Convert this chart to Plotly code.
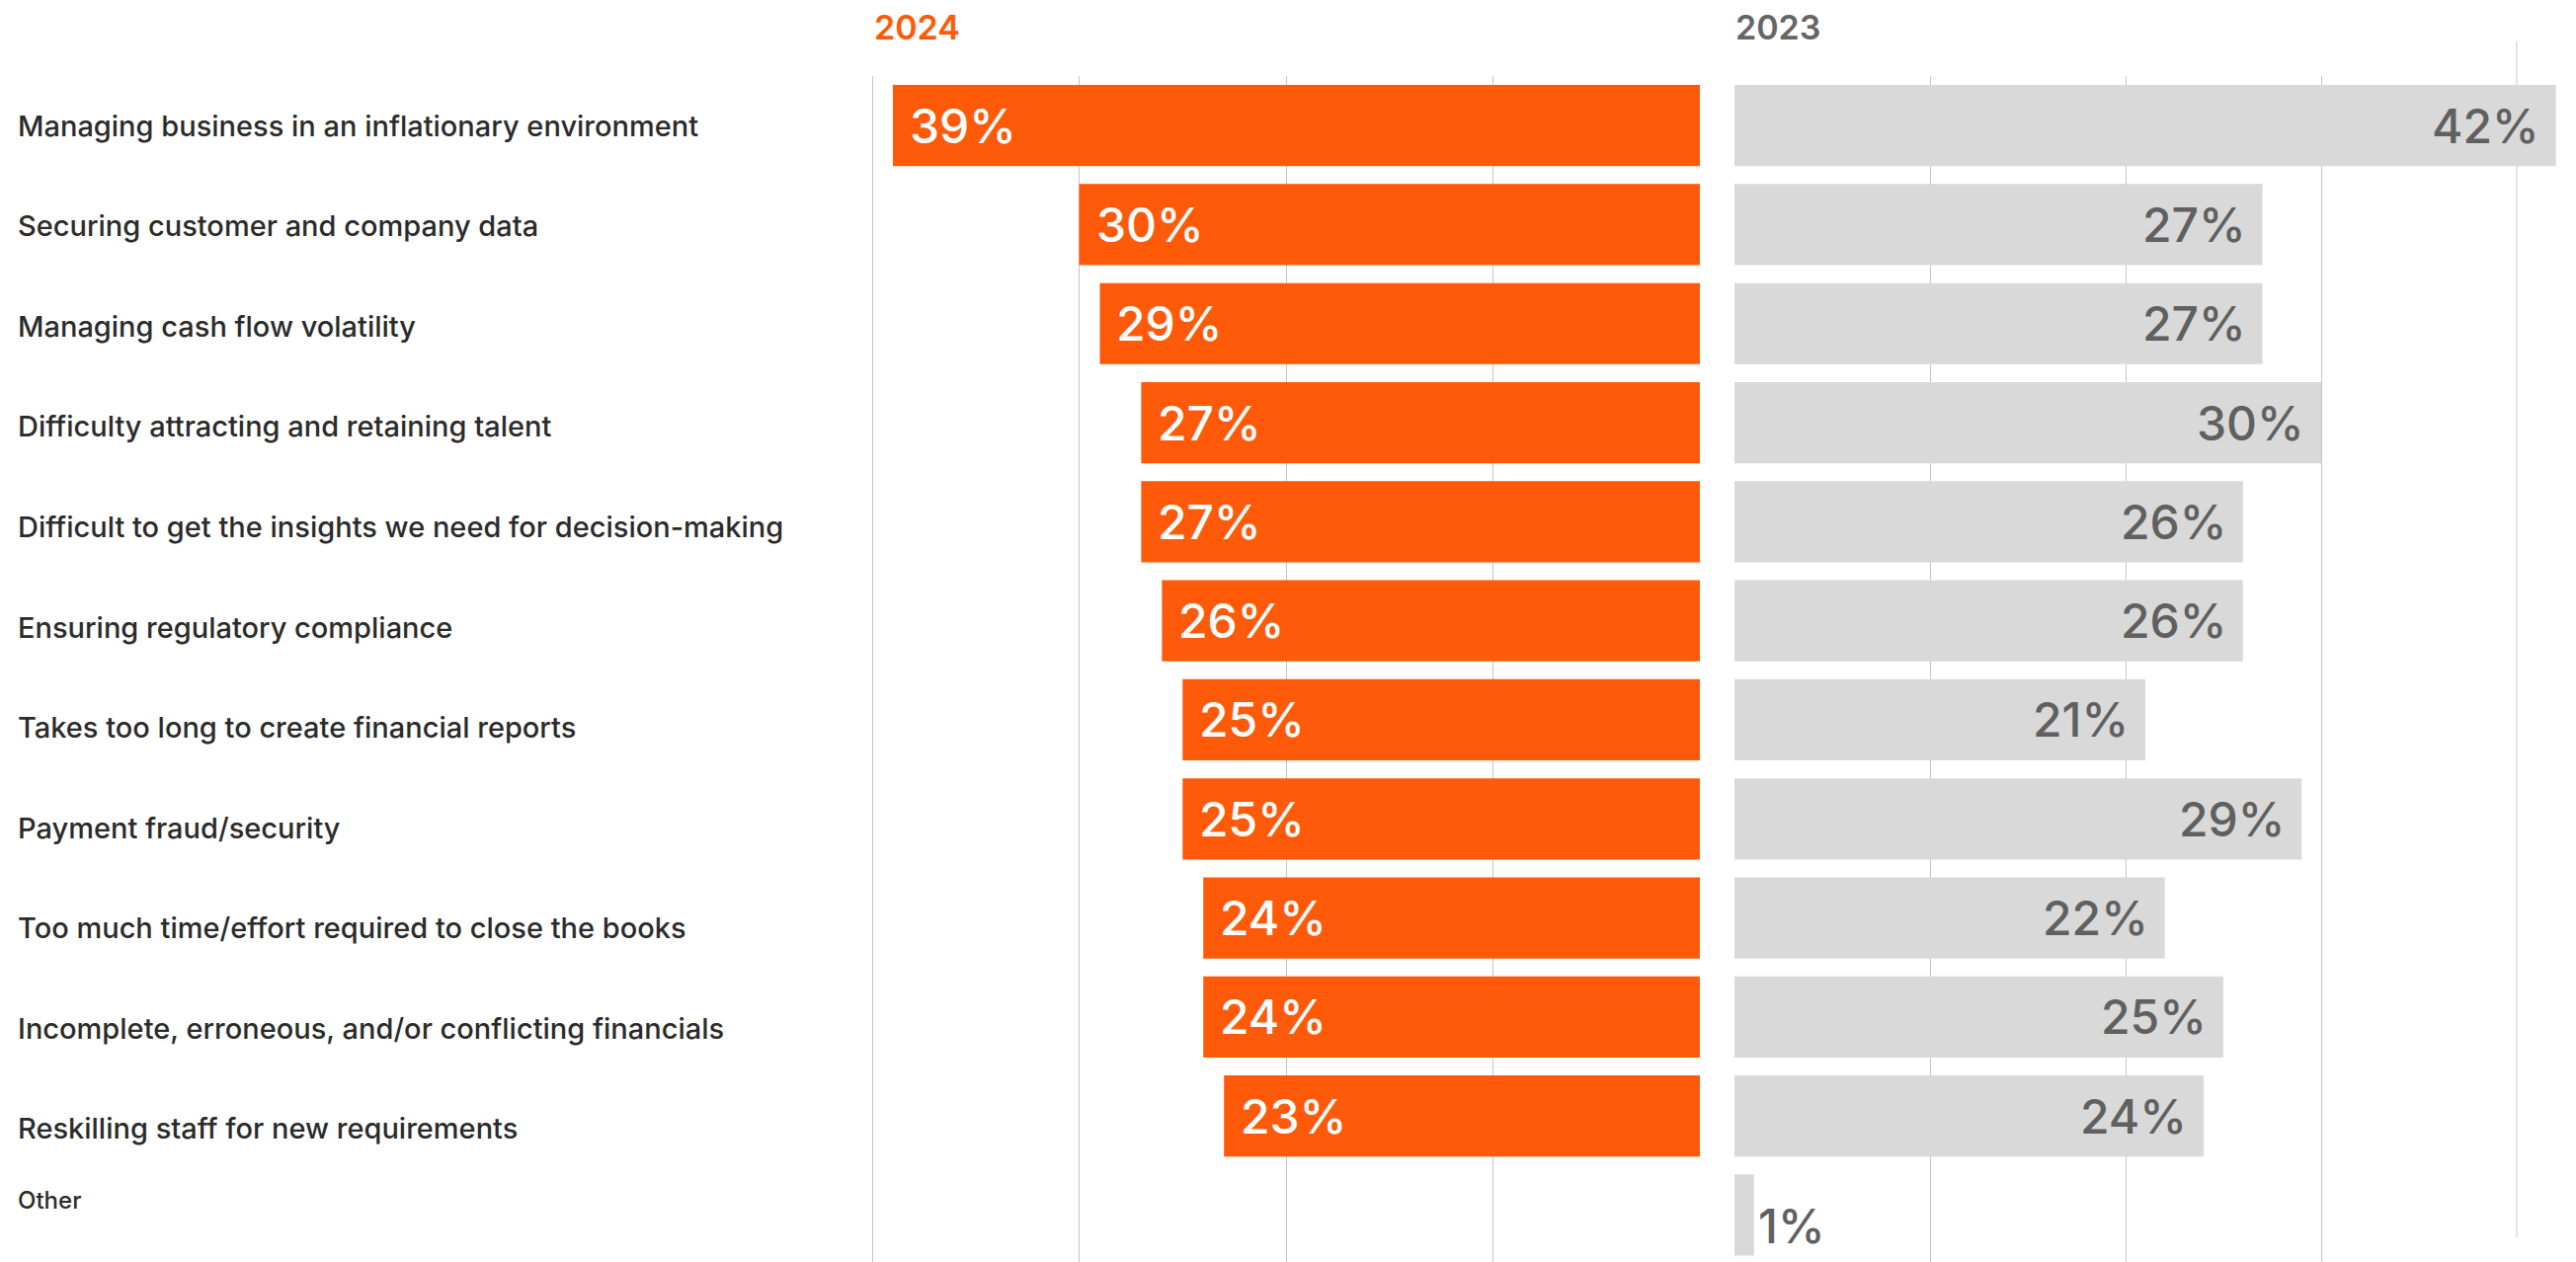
import plotly.graph_objects as go

# Survey: top finance challenges, 2024 vs 2023 (% of respondents)
categories = [
    "Managing business in an inflationary environment",
    "Securing customer and company data",
    "Managing cash flow volatility",
    "Difficulty attracting and retaining talent",
    "Difficult to get the insights we need for decision-making",
    "Ensuring regulatory compliance",
    "Takes too long to create financial reports",
    "Payment fraud/security",
    "Too much time/effort required to close the books",
    "Incomplete, erroneous, and/or conflicting financials",
    "Reskilling staff for new requirements",
    "Other",
]
values_2024 = [39, 30, 29, 27, 27, 26, 25, 25, 24, 24, 23, None]
values_2023 = [42, 27, 27, 30, 26, 26, 21, 29, 22, 25, 24, 1]
grid_ticks = [0, 10, 20, 30, 40]

W, H = 2608, 1278
ORANGE = "#ff5a0a"
GREY_BAR = "#d9d9d9"
GREY_TEXT = "#606060"
LABEL_TEXT = "#2b2b2b"
GRID = "#c6c6c6"
FONT = "Inter, Liberation Sans, Arial, sans-serif"

fig = go.Figure()

fig.add_trace(go.Bar(
    y=categories, x=values_2024, orientation="h",
    xaxis="x", yaxis="y", width=0.82,
    marker=dict(color=ORANGE, line=dict(width=0)),
    hoverinfo="skip", showlegend=False,
))
fig.add_trace(go.Bar(
    y=categories, x=values_2023, orientation="h",
    xaxis="x2", yaxis="y", width=0.82,
    marker=dict(color=GREY_BAR, line=dict(width=0)),
    hoverinfo="skip", showlegend=False,
))

annotations = []

# value labels inside the bars
for cat, v in zip(categories, values_2024):
    if v is None:
        continue
    annotations.append(dict(
        x=v, y=cat, xref="x", yref="y", text=f"{v}%",
        xanchor="left", yanchor="middle", xshift=15, showarrow=False,
        font=dict(family=FONT, size=48, color="white", weight=500),
    ))
for cat, v in zip(categories, values_2023):
    if v >= 5:
        annotations.append(dict(
            x=v, y=cat, xref="x2", yref="y", text=f"{v}%",
            xanchor="right", yanchor="middle", xshift=-15, showarrow=False,
            font=dict(family=FONT, size=48, color=GREY_TEXT, weight=500),
        ))
    else:
        annotations.append(dict(
            x=v, y=cat, xref="x2", yref="y", text=f"{v}%",
            xanchor="left", yanchor="middle", xshift=2, yshift=-11,
            showarrow=False,
            font=dict(family=FONT, size=48, color=GREY_TEXT, weight=500),
        ))

# category labels on the left, label rows run on a slightly looser pitch
for i, cat in enumerate(categories):
    small = cat == "Other"
    annotations.append(dict(
        x=16 / W, y=cat, xref="paper", yref="y", text=cat,
        xanchor="left", yanchor="middle", showarrow=False,
        yshift=(15 if small else -1.27 * i),
        font=dict(family=FONT, size=24 if small else 29, color=LABEL_TEXT,
                  weight=500),
    ))

# panel headers
annotations.append(dict(
    x=883 / W, y=1 - 28 / H, xref="paper", yref="paper", text="2024",
    xanchor="left", yanchor="middle", showarrow=False,
    font=dict(family=FONT, size=34, color=ORANGE, weight=600),
))
annotations.append(dict(
    x=1755 / W, y=1 - 28 / H, xref="paper", yref="paper", text="2023",
    xanchor="left", yanchor="middle", showarrow=False,
    font=dict(family=FONT, size=34, color="#666666", weight=600),
))

axis_common = dict(
    showgrid=True, gridcolor=GRID, gridwidth=1, zeroline=False,
    showticklabels=False, ticks="", showline=False, fixedrange=True,
)

fig.update_layout(
    width=W, height=H,
    margin=dict(l=0, r=0, t=0, b=0),
    paper_bgcolor="white", plot_bgcolor="white",
    xaxis=dict(domain=[860 / W, 1721 / W], range=[41.1, 0],
               tickmode="array", tickvals=grid_ticks, **axis_common),
    xaxis2=dict(domain=[1756 / W, 1.0], range=[0, 43.03],
                tickmode="array", tickvals=grid_ticks[:-1], **axis_common),
    yaxis=dict(domain=[0, 1 - 77 / H], range=[11.474, -0.5],
               type="category", showgrid=False, zeroline=False,
               showticklabels=False, ticks="", showline=False, fixedrange=True),
    annotations=annotations,
    shapes=[dict(
        type="line", xref="x2", yref="paper",
        x0=grid_ticks[-1], x1=grid_ticks[-1],
        y0=1 - 1253 / H, y1=1 - 42 / H,
        line=dict(color=GRID, width=1), layer="below",
    )],
    bargap=0.18,
)

fig.write_html("out.html")
